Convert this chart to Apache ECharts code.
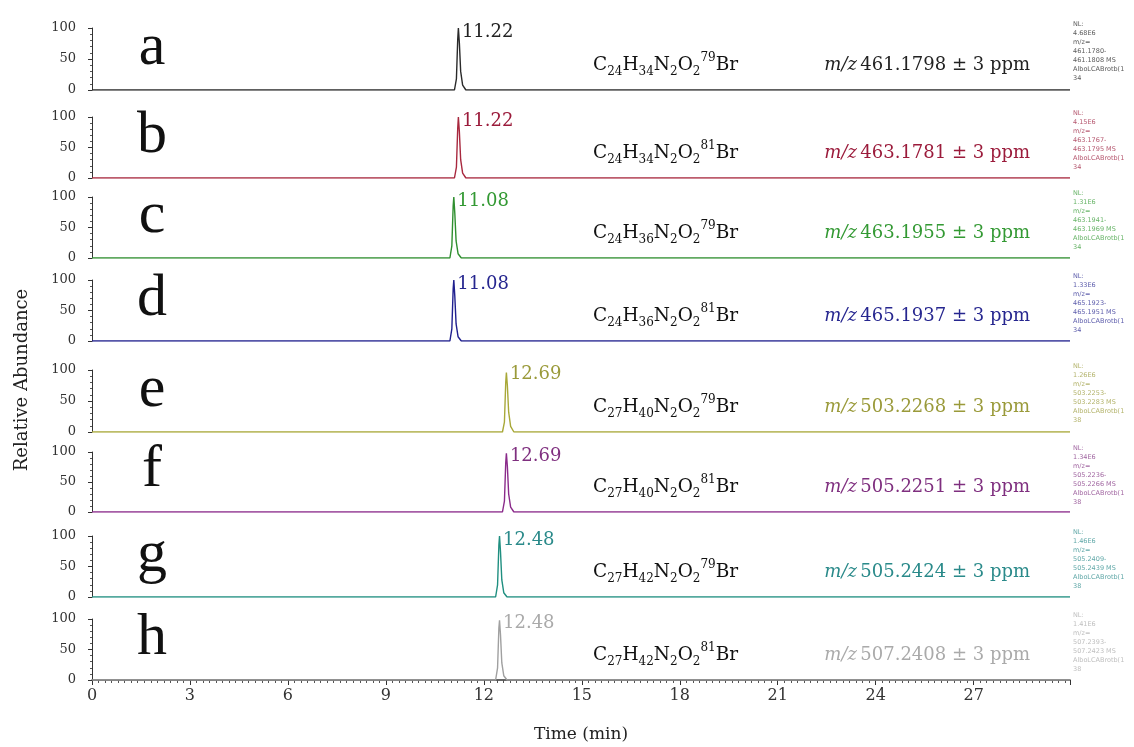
<!DOCTYPE html>
<html>
<head>
<meta charset="utf-8">
<title>EIC traces</title>
<script src="https://cdn.jsdelivr.net/npm/echarts@6/dist/echarts.min.js"></script>
<style>
    html, body { margin: 0; padding: 0; background: #fff; }
    #main { width: 1134px; height: 747px; }
</style>
</head>
<body>
<div id="main"></div>
<script>
/* 数据 */
var panelNames = ['a', 'b', 'c', 'd', 'e', 'f', 'g', 'h'];
var peakLabels = ['11.22', '11.22', '11.08', '11.08', '12.69', '12.69', '12.48', '12.48'];
var peakTimes = [11.22, 11.22, 11.08, 11.08, 12.69, 12.69, 12.48, 12.48];

var timeA = [0, 11.10, 11.16, 11.20, 11.22, 11.25, 11.29, 11.35, 11.45, 29.95];
var timeB = [0, 11.10, 11.16, 11.20, 11.22, 11.25, 11.29, 11.35, 11.45, 29.95];
var timeC = [0, 10.96, 11.02, 11.06, 11.08, 11.11, 11.15, 11.21, 11.31, 29.95];
var timeD = [0, 10.96, 11.02, 11.06, 11.08, 11.11, 11.15, 11.21, 11.31, 29.95];
var timeE = [0, 12.57, 12.63, 12.67, 12.69, 12.72, 12.76, 12.82, 12.92, 29.95];
var timeF = [0, 12.57, 12.63, 12.67, 12.69, 12.72, 12.76, 12.82, 12.92, 29.95];
var timeG = [0, 12.36, 12.42, 12.46, 12.48, 12.51, 12.55, 12.61, 12.71, 29.95];
var timeH = [0, 12.36, 12.42, 12.46, 12.48, 12.51, 12.55, 12.61, 12.71, 29.95];

var abundA = [0, 0, 18, 82, 100, 76, 30, 8, 0, 0];
var abundB = [0, 0, 18, 82, 100, 76, 30, 8, 0, 0];
var abundC = [0, 0, 20, 85, 100, 74, 28, 7, 0, 0];
var abundD = [0, 0, 20, 85, 100, 74, 28, 7, 0, 0];
var abundE = [0, 0, 16, 80, 96, 75, 32, 9, 0, 0];
var abundF = [0, 0, 18, 82, 98, 76, 30, 8, 0, 0];
var abundG = [0, 0, 20, 85, 100, 74, 28, 7, 0, 0];
var abundH = [0, 0, 20, 85, 98, 74, 28, 7, 0, 0];

var formulaC = ['24', '24', '24', '24', '27', '27', '27', '27'];
var formulaH = ['34', '34', '36', '36', '40', '40', '42', '42'];
var isotopes = ['79', '81', '79', '81', '79', '81', '79', '81'];
var mzValues = ['461.1798', '463.1781', '463.1955', '465.1937', '503.2268', '505.2251', '505.2424', '507.2408'];
var nlValues = ['4.68E6', '4.15E6', '1.31E6', '1.33E6', '1.26E6', '1.34E6', '1.46E6', '1.41E6'];
var mzLow = ['461.1780', '463.1767', '463.1941', '465.1923', '503.2253', '505.2236', '505.2409', '507.2393'];
var mzHigh = ['461.1808', '463.1795', '463.1969', '465.1951', '503.2283', '505.2266', '505.2439', '507.2423'];
var scanNums = ['34', '34', '34', '34', '38', '38', '38', '38'];
var xTicks = [0, 3, 6, 9, 12, 15, 18, 21, 24, 27];

/* 样式 */
var traceColors = ['#2a2a2a', '#a8283e', '#2f8f2f', '#20208f', '#a8a838', '#8a2a8a', '#1f8f80', '#a0a0a0'];
var textColors = ['#222222', '#9b1b3b', '#339933', '#26268f', '#9a9a3a', '#7f2f7f', '#2a8a8a', '#aaaaaa'];
var gridTops = [28, 117, 197, 280, 370, 452, 536, 619];
var gridBottoms = [90, 178, 258, 341, 432, 512, 597, 680];
var SERIF = 'DejaVu Serif';
var GRID_LEFT = 92;
var GRID_RIGHT = 64;

(function () {
    'use strict';
    var chart = echarts.init(document.getElementById('main'), null, {renderer: 'canvas'});
    var times = [timeA, timeB, timeC, timeD, timeE, timeF, timeG, timeH];
    var abunds = [abundA, abundB, abundC, abundD, abundE, abundF, abundG, abundH];

    var grids = [], xAxes = [], yAxes = [], series = [], graphics = [];

    panelNames.forEach(function (name, i) {
        var last = i === panelNames.length - 1;
        grids.push({
            left: GRID_LEFT, right: GRID_RIGHT,
            top: gridTops[i], height: gridBottoms[i] - gridTops[i]
        });
        xAxes.push({
            type: 'value', gridIndex: i, min: 0, max: 29.95, interval: 3,
            show: true,
            axisLine: {show: last, lineStyle: {color: '#333', width: 1.5}},
            axisTick: {show: last, length: 5, lineStyle: {color: '#333'}},
            minorTick: {show: last, splitNumber: 15, length: 3, lineStyle: {color: '#555'}},
            splitLine: {show: false},
            axisLabel: {
                show: last, fontFamily: SERIF, fontSize: 16, color: '#333', margin: 8,
                showMaxLabel: false,
                formatter: function (v) { return xTicks.indexOf(v) > -1 ? String(v) : ''; }
            },
            name: last ? 'Time (min)' : '',
            nameLocation: 'middle', nameGap: 46,
            nameTextStyle: {fontFamily: SERIF, fontSize: 17, color: '#222'}
        });
        yAxes.push({
            type: 'value', gridIndex: i, min: 0, max: 100, interval: 50,
            axisLine: {show: true, lineStyle: {color: '#333', width: 1}},
            axisTick: {show: true, length: 4, lineStyle: {color: '#333'}},
            minorTick: {show: true, splitNumber: 5, length: 2, lineStyle: {color: '#555'}},
            splitLine: {show: false},
            axisLabel: {fontFamily: SERIF, fontSize: 13, color: '#333', margin: 16}
        });
        series.push({
            type: 'line', xAxisIndex: i, yAxisIndex: i,
            data: times[i].map(function (t, k) { return [t, abunds[i][k]]; }),
            symbol: 'none', silent: true, animation: false,
            lineStyle: {color: traceColors[i], width: 1.4},
            markPoint: {
                symbol: 'circle', symbolSize: 1, silent: true, animation: false,
                itemStyle: {color: 'rgba(0,0,0,0)'},
                label: {
                    show: true, position: 'right', distance: 3, offset: [0, 4],
                    formatter: peakLabels[i], color: textColors[i],
                    fontFamily: SERIF, fontSize: 18
                },
                data: [{coord: [peakTimes[i], 100]}]
            }
        });

        /* 面板字母 */
        graphics.push({
            type: 'text', silent: true,
            x: 152, y: gridBottoms[i] - 42,
            style: {
                text: name, fontFamily: 'Liberation Serif', fontSize: 60, fill: '#111',
                align: 'center', verticalAlign: 'middle'
            }
        });
        /* 分子式 */
        graphics.push({
            type: 'text', silent: true,
            x: 593, y: gridBottoms[i] - 25,
            style: {
                text: '{m|C}{s|' + formulaC[i] + '}{m|H}{s|' + formulaH[i] + '}{m|N}{s|2}{m|O}{s|2}{p|' + isotopes[i] + '}{m|Br}',
                verticalAlign: 'middle', fill: '#111',
                rich: {
                    m: {fontFamily: SERIF, fontSize: 18.5, lineHeight: 26, verticalAlign: 'middle', fill: '#111'},
                    s: {fontFamily: SERIF, fontSize: 12, lineHeight: 12, verticalAlign: 'bottom', fill: '#111'},
                    p: {fontFamily: SERIF, fontSize: 12, lineHeight: 12, verticalAlign: 'top', fill: '#111'}
                }
            }
        });
        /* m/z */
        graphics.push({
            type: 'text', silent: true,
            x: 1030, y: gridBottoms[i] - 25,
            style: {
                text: '{i|m/z} {n|' + mzValues[i] + ' \u00b1 3 ppm}',
                align: 'right', verticalAlign: 'middle',
                rich: {
                    i: {fontFamily: SERIF, fontStyle: 'italic', fontSize: 18, fill: textColors[i]},
                    n: {fontFamily: SERIF, fontSize: 18, fill: textColors[i]}
                }
            }
        });
        /* 右侧小字 */
        graphics.push({
            type: 'text', silent: true,
            x: 1073, y: gridTops[i] - 8,
            style: {
                text: ['NL:', nlValues[i], 'm/z=', mzLow[i] + '-', mzHigh[i] + ' MS', 'AlboLCABrotb(1', scanNums[i]].join('\n'),
                fontFamily: 'DejaVu Sans', fontSize: 6.5, lineHeight: 9,
                fill: textColors[i], opacity: 0.75
            }
        });
    });

    graphics.push({
        type: 'text', silent: true, x: 22, y: 380, rotation: Math.PI / 2,
        style: {
            text: 'Relative Abundance', fontFamily: SERIF, fontSize: 18, fill: '#222',
            align: 'center', verticalAlign: 'middle'
        }
    });

    chart.setOption({
        backgroundColor: '#fff',
        animation: false,
        grid: grids,
        xAxis: xAxes,
        yAxis: yAxes,
        series: series,
        graphic: graphics
    });
})();
</script>
</body>
</html>
